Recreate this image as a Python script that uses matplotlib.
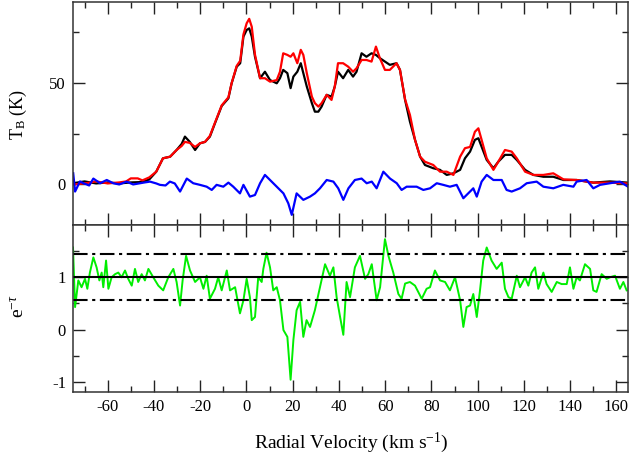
import numpy as np
import matplotlib
matplotlib.use("Agg")
import matplotlib.pyplot as plt
from matplotlib.ticker import MultipleLocator, FixedLocator

plt.rcParams['font.family'] = ['Liberation Serif', 'DejaVu Serif']
plt.rcParams['mathtext.fontset'] = 'custom'
plt.rcParams['mathtext.rm'] = 'Liberation Serif'
plt.rcParams['mathtext.it'] = 'Liberation Serif:italic'
plt.rcParams['axes.unicode_minus'] = False

# ---- Top panel: brightness temperature (K) ----
black_v = [-75, -70, -65, -60, -55, -50, -45, -42, -39, -36.1, -33, -30.2, -28, -26.6, -24.5, -22.2,
           -20.1, -17.9, -15.8, -13.6, -10.7, -7.8, -6.4, -4.2, -2.7, -1.3, 0.1, 1.2, 2.3, 3.7, 5.9, 8,
           10.2, 13.1, 14.5, 15.9, 17.7, 19.1, 20.3, 22, 23.5, 24.6, 26.1, 28.3, 29.6, 31.1, 32.5, 34.7,
           36.8, 38.2, 39.6, 41.8, 44, 46.1, 47.6, 49.8, 51.9, 54.1, 56, 57.7, 59.9, 62, 64.9, 66.4, 68.6,
           70.7, 72.9, 75.1, 77.2, 80.8, 83.7, 86.6, 89.5, 92.4, 94.5, 96.7, 98.8, 100.3, 101.7, 103.9,
           106.8, 108.9, 111.8, 114.7, 116.9, 120.5, 124.1, 128.4, 132.7, 137.1, 142.8, 150, 157.2, 165]
black_T = [0.6, 1.5, 0.5, 1.0, 0.5, 1.0, 1.2, 2.5, 6.3, 12.9, 13.7, 17, 20, 23.6, 21, 17,
           20.3, 21, 23.6, 30.2, 38.7, 42.5, 49.9, 58.1, 59.8, 72.9, 76.2, 77, 72.9, 63, 52.4, 55.6,
           51.5, 49.9, 52.4, 56.5, 54.9, 47.5, 53.2, 55.6, 59.8, 54.9, 48.3, 40.1, 35.9, 35.9, 38.4, 44.2,
           43.3, 48.3, 55.6, 52.4, 56.5, 53.2, 55.6, 64.7, 63, 64.7, 63.9, 62.3, 60.6, 59, 59.8, 56.5, 41.7,
           31, 22, 13.7, 9.6, 8, 7.2, 4.7, 5.5, 7.2, 12.9, 16.2, 22, 22.8, 18.6, 12.1,
           8, 11.2, 14.6, 14.6, 12.1, 7.2, 4.7, 3.8, 3.8, 2.2, 2.2, 0.9, 1.5, 0.9]

red_v = [-75, -70, -65, -60, -55, -52, -50, -47, -45, -42, -39, -36.1, -33, -30.2, -28, -26.6, -24.5,
         -22.2, -20.1, -17.9, -15.8, -13.6, -10.7, -7.8, -6.4, -4.2, -2.7, -1.3, 0.1, 1.2, 2.3, 3.7, 5.9,
         8, 10.2, 13.1, 14.5, 15.9, 17.7, 19.1, 20.3, 22, 23.5, 24.6, 26.1, 28.3, 29.6, 31.1, 32.5, 34.7,
         36.8, 38.2, 39.6, 41.8, 44, 46.1, 47.6, 49.8, 51.9, 54.1, 56, 57.7, 59.9, 62, 64.9, 66.4, 68.6,
         70.7, 72.9, 75.1, 77.2, 80.8, 83.7, 86.6, 89.5, 92.4, 94.5, 96.7, 98.8, 100.3, 101.7, 103.9,
         106.8, 108.9, 111.8, 114.7, 116.9, 120.5, 124.1, 128.4, 132.7, 137.1, 142.8, 150, 157.2, 165]
red_T = [0.0, 0.5, 1.5, 0.5, 1.0, 1.5, 3, 3, 2, 3.5, 6.3, 12.9, 13.7, 17, 19, 21, 20.5,
         18.5, 20.3, 21, 24, 30.5, 39, 43, 50, 58.5, 61, 74, 79.5, 81.7, 77.8, 64, 52.4,
         52.4, 50.7, 51.5, 55.6, 64.7, 63.9, 63, 64.7, 59.8, 66.4, 63.9, 54.9, 43.3, 40.1, 38.4, 40.1, 44.2,
         41.7, 48.3, 59.8, 59.8, 58.1, 55.6, 57.3, 61.4, 61.4, 60.6, 68, 62.3, 56.5, 56.5, 59.8, 56.5, 42,
         34.3, 22, 13.7, 11.2, 9.6, 6.3, 6.3, 4.7, 13.7, 17.9, 18.5, 26, 27.7, 22, 12.9,
         7.2, 11.2, 17, 16.2, 12.9, 6.3, 4.7, 4.7, 5.5, 2.5, 2.2, 0.9, 0.9, 0.5]

blue_v = [-74.9, -74.1, -72, -70.5, -68, -66.2, -63.3, -60.4, -57.6, -55, -51.8, -49, -46.0, -44, -41.7,
          -39, -37.4, -35, -33.1, -31, -28.7, -25.8, -23.0, -20.1, -17.2, -15.0, -12.9, -10.0, -7.8,
          -5.7, -2.8, -1.3, 1.5, 3.7, 5.9, 8.0, 10.2, 13.1, 16.0, 18.1, 19.6, 21.7, 24.6, 27.5, 29.6,
          31.8, 34.7, 37.6, 39.7, 41.9, 44.1, 46.9, 49.8, 52.0, 54.2, 56.3, 59.2, 62.1, 65.0, 67.1, 69.3,
          72.2, 73.6, 76.5, 79.4, 82.3, 85.1, 88.0, 90.9, 93.8, 95.9, 98.1, 99.6, 101.7, 103.9, 106.8,
          110.4, 112.5, 114.7, 118.3, 121.2, 125.5, 128.4, 132.7, 137.0, 141.4, 142.8, 147.1, 150.0,
          152.9, 157.2, 161.5, 165.0]
blue_T = [5.5, -3.5, 1.5, 0.6, -0.5, 2.9, 0.6, 2.2, 0.6, 0.0, 1.4, 0.0, 0.6, 1.0, 1.4,
          0.5, -0.2, -0.5, 1.4, 0.5, -3.5, 2.9, 0.6, -0.2, -1.1, -2.7, -0.2, -1.1, 0.9,
          -1.1, -4.4, -0.2, -6.0, -5.2, 0.6, 4.7, 2.2, -1.1, -4.4, -9.3, -15.0, -4.4, -7.6, -6.0, -4.4,
          -1.9, 2.2, 1.4, -1.9, -7.6, -1.9, 2.2, 2.9, 0.6, 1.4, -1.9, 6.3, 2.9, 0.6, -2.7, -1.1,
          -1.1, -1.1, -2.7, -1.9, 0.6, -0.2, -1.1, -0.2, -6.8, -4.4, -1.9, -6.0, 1.4, 4.7, 2.2,
          2.2, -2.7, -3.5, -1.9, 0.6, 1.4, -1.1, -1.9, -0.2, -1.1, 1.4, 2.2, -1.9,
          -0.2, 0.6, 1.4, -1.1]

# ---- Bottom panel: e^{-tau} ----
green_v = [-75, -74.1, -72.7, -71.3, -69.8, -68.8, -67.7, -66.2, -64.8, -63.6, -62.6, -61.9, -60.7, -59.7,
           -58.3, -56.8, -55.4, -54.0, -52.5, -51.1, -49.6, -48.2, -46.8, -45.3, -43.9, -42.4, -40.3,
           -38.1, -36.0, -33.8, -31.6, -30.2, -28.7, -27.6, -26.1, -24.4, -22.2, -20.1, -18.6, -17.2,
           -15.8, -13.6, -12.2, -10.7, -8.5, -7.1, -4.9, -2.8, -1.3, 0.1, 1.5, 2.3, 3.7, 5.1, 6.6, 7.3,
           8.7, 10.2, 11.6, 13.1, 14.5, 16.0, 17.7, 19.1, 20.3, 21.7, 23.2, 24.6, 26.0, 27.5, 29.6, 31.8,
           34.0, 36.1, 37.6, 39.0, 40.5, 41.9, 43.3, 44.8, 46.9, 49.1, 51.3, 52.7, 54.2, 56.3, 57.8, 59.9,
           61.4, 63.5, 65.7, 67.1, 68.6, 70.7, 72.9, 75.8, 77.9, 79.4, 81.5, 83.7, 85.9, 88.0, 90.2, 92.4,
           93.8, 95.2, 96.7, 98.1, 99.6, 101.0, 102.4, 103.9, 106.0, 108.2, 110.4, 111.8, 113.3, 114.7,
           116.9, 118.3, 120.5, 121.9, 123.3, 124.8, 126.2, 128.4, 129.8, 132.0, 134.2, 136.3, 138.5,
           139.9, 141.4, 142.8, 144.2, 146.4, 148.6, 150.0, 151.4, 153.6, 155.8, 157.2, 159.4, 161.5,
           163.0, 164.4]
green_e = [1.57, 0.43, 0.94, 0.81, 0.97, 0.78, 1.09, 1.38, 1.19, 0.94, 1.09, 0.81, 1.32, 0.78,
           1.0, 1.06, 1.09, 1.0, 1.13, 0.97, 0.84, 1.16, 0.91, 1.06, 0.94, 1.16, 1.0,
           0.84, 0.75, 1.0, 1.16, 0.91, 0.46, 0.94, 1.41, 1.13, 0.91, 1.0, 0.78, 1.03,
           0.59, 0.78, 1.0, 0.75, 1.13, 0.75, 0.81, 0.31, 0.56, 0.97, 0.62, 0.18, 0.24, 1.0, 0.91, 1.16,
           1.47, 1.19, 0.75, 0.81, 0.56, -0.01, -0.14, -0.96, -0.20, 0.37, 0.53, -0.14, 0.18, 0.05, 0.37, 0.81,
           1.25, 1.03, 1.19, 0.62, 0.24, -0.10, 0.91, 0.62, 1.19, 1.41, 0.97, 1.06, 1.25, 0.56, 0.81, 1.73,
           1.41, 1.09, 0.68, 0.59, 0.88, 0.91, 0.84, 0.59, 0.78, 0.81, 1.13, 0.94, 0.91, 0.75, 1.0, 0.56,
           0.05, 0.43, 0.46, 0.68, 0.24, 0.75, 1.32, 1.57, 1.32, 1.16, 1.28, 0.78, 0.62, 0.59,
           1.03, 0.81, 1.0, 0.84, 1.09, 1.19, 0.78, 1.09, 0.87, 0.72, 0.91, 0.87, 0.87,
           1.19, 0.78, 1.0, 0.94, 1.25, 1.16, 0.75, 0.72, 1.06, 0.97, 1.0, 1.03, 0.78,
           0.91, 0.75]

unity_level = 1.0
upper_level = 1.45
lower_level = 0.57

xlim = (-75, 165)
x_ticks = [-60, -40, -20, 0, 20, 40, 60, 80, 100, 120, 140, 160]
top_yticks = [0, 50]
bottom_yticks = [-1, 0, 1]

W, H = 631, 459
fig = plt.figure(figsize=(W / 100, H / 100), dpi=100)
L, R = 73 / W, 628 / W
ax1 = fig.add_axes([L, 1 - 225 / H, R - L, (225 - 2) / H])
ax2 = fig.add_axes([L, 1 - 392.3 / H, R - L, (392.3 - 225) / H])

ax1.plot(black_v, black_T, color='black', lw=1.6)
ax1.plot(red_v, red_T, color='#ff0000', lw=1.6)
ax1.plot(blue_v, blue_T, color='#0000ff', lw=1.6)
ax1.set_xlim(*xlim)
ax1.set_ylim(-20, 90)

ax2.plot(green_v, green_e, color='#00ee00', lw=1.4)
ax2.axhline(unity_level, color='black', lw=1.5)
dd = (0, (7, 2.2, 1.5, 2.2))
ax2.axhline(upper_level, color='black', lw=1.5, linestyle=dd)
ax2.axhline(lower_level, color='black', lw=1.5, linestyle=dd)
ax2.set_xlim(*xlim)
ax2.set_ylim(-1.2, 2)

for ax in (ax1, ax2):
    ax.xaxis.set_major_locator(MultipleLocator(20))
    ax.xaxis.set_minor_locator(MultipleLocator(10))
    ax.tick_params(which='both', direction='in', top=True, right=True, width=1.0, color='#222222')
    ax.tick_params(which='major', length=8.5)
    ax.tick_params(which='minor', length=4.3)
    ax.tick_params(labelsize=12, pad=5)
    for s in ax.spines.values():
        s.set_linewidth(1.1)
        s.set_color('#333333')

ax1.yaxis.set_major_locator(FixedLocator(top_yticks))
ax1.yaxis.set_minor_locator(FixedLocator([25, 75]))
ax1.tick_params(labelbottom=False)
ax2.yaxis.set_major_locator(FixedLocator(bottom_yticks))
ax2.yaxis.set_minor_locator(FixedLocator([-0.5, 0.5, 1.5]))
ax2.set_xticks(x_ticks)
ax2.set_xticklabels([str(t) for t in x_ticks])

fig.text(18 / W, 1 - 115 / H, r'T$_{\mathrm{B}}$ (K)', rotation=90, ha='center', va='center', fontsize=13)
fig.text(18 / W, 1 - 306 / H, r'e$^{-\tau}$', rotation=90, ha='center', va='center', fontsize=14)
fig.text(351 / W, 1 - 443 / H, r'Radial Velocity (km s$^{\mathrm{-1}}$)', ha='center', va='center', fontsize=14)

fig.savefig('out.png', dpi=100)
